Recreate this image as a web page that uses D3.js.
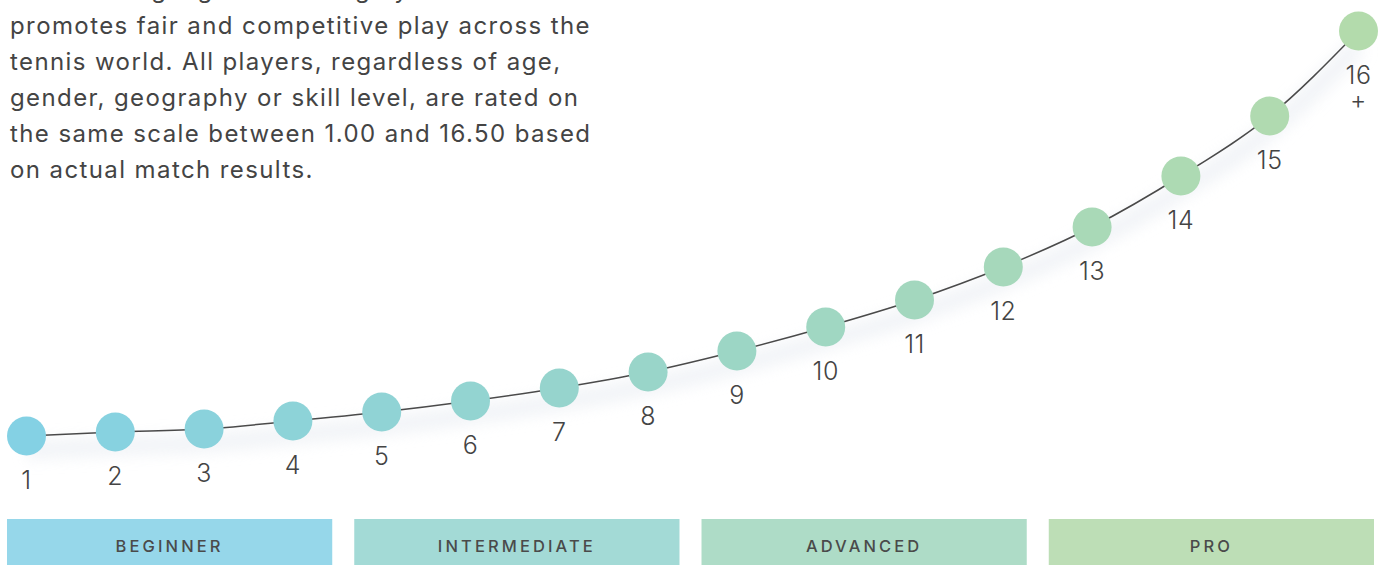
<!DOCTYPE html>
<html>
<head>
<meta charset="utf-8">
<script src="https://cdn.jsdelivr.net/npm/d3@7"></script>
<style>
  html, body { margin: 0; padding: 0; background: #fff; }
  svg { display: block; }
  text { font-family: Inter, "Open Sans", sans-serif; }
</style>
</head>
<body>
<svg width="1384" height="565"></svg>
<script>
// rating levels along the curve
let levels = ["1", "2", "3", "4", "5", "6", "7", "8", "9", "10", "11", "12", "13", "14", "15", "16+"];
// relative height of each level on the curve
let heights = [0, 4, 7, 15, 24, 35, 48, 64, 85, 109, 136, 169, 209, 260, 320, 405];

let tiers = ["BEGINNER", "INTERMEDIATE", "ADVANCED", "PRO"];
let tierColors = ["#96d7ea", "#a3dad6", "#aedcc7", "#bddeb6"];

let introLines = [
    "UTR's rating algorithm is highly accurate and",
    "promotes fair and competitive play across the",
    "tennis world. All players, regardless of age,",
    "gender, geography or skill level, are rated on",
    "the same scale between 1.00 and 16.50 based",
    "on actual match results."
];

let svg = d3.select("svg");

let x = d3.scalePoint().domain(levels).range([26.5, 1358.5]),
    y = d3.scaleLinear().domain([0, 405]).range([436, 31]),
    color = d3.scaleLinear()
        .domain([0, 7, 15])
        .range(["#84d1e4", "#99d5c9", "#b3dbac"])
        .interpolate(d3.interpolateRgb);

let points = levels.map((l, i) => ({ level: l, h: heights[i], i: i }));

let line = d3.line()
    .curve(d3.curveMonotoneX)
    .x(d => x(d.level))
    .y(d => y(d.h));

// soft shadow under the curve
let defs = svg.append("defs");
defs.append("filter")
    .attr("id", "blur")
    .attr("x", "-10%").attr("y", "-50%")
    .attr("width", "120%").attr("height", "200%")
    .append("feGaussianBlur")
    .attr("stdDeviation", 7);

svg.append("path")
    .datum(points)
    .attr("d", line)
    .attr("transform", "translate(0,14)")
    .attr("fill", "none")
    .attr("stroke", "#e8ecf2")
    .attr("stroke-width", 20)
    .attr("opacity", 0.55)
    .attr("filter", "url(#blur)");

svg.append("path")
    .datum(points)
    .attr("d", line)
    .attr("fill", "none")
    .attr("stroke", "#4a4a4a")
    .attr("stroke-width", 1.5);

svg.append("g")
    .selectAll("circle")
    .data(points)
    .join("circle")
    .attr("cx", d => x(d.level))
    .attr("cy", d => y(d.h))
    .attr("r", 19.5)
    .attr("fill", d => color(d.i));

let labels = svg.append("g")
    .attr("fill", "#444")
    .attr("font-size", 25)
    .attr("font-weight", 300)
    .attr("letter-spacing", 0.5)
    .attr("text-anchor", "middle");

labels.selectAll("text")
    .data(points)
    .join("text")
    .attr("x", d => x(d.level))
    .attr("y", d => y(d.h) + 53)
    .each(function (d) {
        let t = d3.select(this);
        if (d.level.endsWith("+")) {
            t.append("tspan").text(d.level.slice(0, -1));
            t.append("tspan").attr("x", x(d.level)).attr("dy", 25).text("+");
        } else {
            t.text(d.level);
        }
    });

// intro paragraph (top line is cut off by the frame)
svg.append("g")
    .attr("fill", "#444")
    .attr("font-size", 24)
    .attr("letter-spacing", 1.4)
    .selectAll("text")
    .data(introLines)
    .join("text")
    .attr("x", 10)
    .attr("y", (d, i) => -2 + i * 36)
    .text(d => d);

// tier bars along the bottom
let band = d3.scaleBand().domain(tiers).range([7, 1374]).paddingInner(0.0634);

let bars = svg.append("g");
bars.selectAll("rect")
    .data(tiers)
    .join("rect")
    .attr("x", d => band(d))
    .attr("y", 519)
    .attr("width", band.bandwidth())
    .attr("height", 50)
    .attr("fill", (d, i) => tierColors[i]);

bars.selectAll("text")
    .data(tiers)
    .join("text")
    .attr("x", d => band(d) + band.bandwidth() / 2)
    .attr("y", 552)
    .attr("text-anchor", "middle")
    .attr("font-size", 16.5)
    .attr("font-weight", 500)
    .attr("letter-spacing", 3.1)
    .attr("fill", "#4a4a4a")
    .text(d => d);
</script>
</body>
</html>
